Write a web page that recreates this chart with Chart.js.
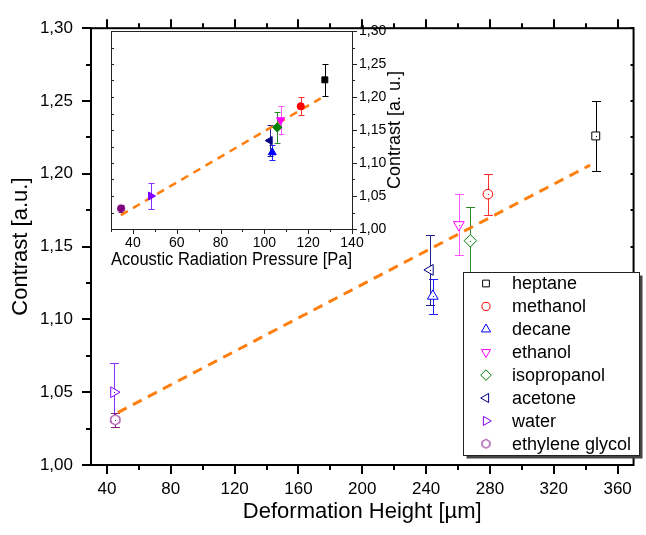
<!DOCTYPE html>
<html>
<head>
<meta charset="utf-8">
<script src="https://cdn.jsdelivr.net/npm/chart.js@4/dist/chart.umd.min.js"></script>
<style>
  html, body { margin: 0; padding: 0; background: #fff; }
  #wrap { position: relative; width: 646px; height: 535px; }
  #main { position: absolute; left: 0; top: 0; }
  #inset { position: absolute; left: 95px; top: 15px; }
</style>
</head>
<body>
<div id="wrap">
  <canvas id="main" width="646" height="535"></canvas>
  <canvas id="inset" width="315" height="265"></canvas>
</div>
<script>
// liquids, in legend order
const liquids = ['heptane', 'methanol', 'decane', 'ethanol', 'isopropanol', 'acetone', 'water', 'ethylene glycol'];
const heightUm = [346.3, 278.7, 244.2, 260.5, 267.7, 242.5, 44.3, 45.2];
const pressurePa = [127.6, 116.6, 103.6, 107.4, 105.9, 102.5, 48.2, 34.6];
const contrast = [1.226, 1.186, 1.116, 1.165, 1.154, 1.134, 1.050, 1.031];
const contrastErr = [0.024, 0.014, 0.012, 0.021, 0.023, 0.024, 0.020, 0.005];

// linear fits (end points)
const fitHeight = [46.8, 342.8];
const fitMain = [1.036, 1.206];
const fitPressure = [34.5, 125.7];
const fitInset = [1.021, 1.198];

// tick labels
const xTicks = [40, 80, 120, 160, 200, 240, 280, 320, 360];
const yTicks = [1.00, 1.05, 1.10, 1.15, 1.20, 1.25, 1.30];
const insetXTicks = [40, 60, 80, 100, 120, 140];

const colors = ['#000000', '#ff0000', '#0000ff', '#ff00ff', '#008000', '#000080', '#8000ff', '#800080'];
const errColors = ['#000000', '#ff3030', '#2020ff', '#ff55ff', '#2a8a2a', '#202090', '#8a30ff', '#802080'];
const styles = ['rect', 'circle', 'triangle', 'triangle', 'rectRot', 'triangle', 'triangle', 'hex'];
const rotations = [0, 0, 0, 180, 0, -90, 90, 0];
const radii = [5.6, 4.8, 6.2, 6.2, 6.2, 6.2, 6.2, 5.2];

Chart.defaults.font.family = '"Liberation Sans", Arial, sans-serif';
Chart.defaults.color = '#000';

const fmtTick = v => v.toFixed(2).replace('.', ',');

function hexImage(color, filled, r) {
  const c = document.createElement('canvas');
  const s = Math.ceil(r * 2 + 4);
  c.width = c.height = s;
  const g = c.getContext('2d');
  g.beginPath();
  for (let k = 0; k < 6; k++) {
    const a = -Math.PI / 2 + k * Math.PI / 3;
    const px = s / 2 + r * Math.cos(a), py = s / 2 + r * Math.sin(a);
    k ? g.lineTo(px, py) : g.moveTo(px, py);
  }
  g.closePath();
  g.fillStyle = filled ? color : '#fff';
  g.fill();
  g.strokeStyle = color;
  g.lineWidth = 1;
  g.stroke();
  return c;
}

function markerStyle(i, filled, scale) {
  const r = radii[i] * scale;
  return styles[i] === 'hex' ? hexImage(colors[i], filled, r) : styles[i];
}

function errorBars(xs, cap, width) {
  return {
    id: 'errorBars',
    beforeDatasetsDraw(chart) {
      const { ctx, scales: { x, y } } = chart;
      ctx.save();
      ctx.lineWidth = width;
      xs.forEach((xv, i) => {
        const px = Math.round(x.getPixelForValue(xv)) + 0.5;
        const top = Math.round(y.getPixelForValue(contrast[i] + contrastErr[i])) + 0.5;
        const bot = Math.round(y.getPixelForValue(contrast[i] - contrastErr[i])) + 0.5;
        ctx.strokeStyle = errColors[i];
        ctx.beginPath();
        ctx.moveTo(px, top); ctx.lineTo(px, bot);
        ctx.moveTo(px - cap, top); ctx.lineTo(px + cap, top);
        ctx.moveTo(px - cap, bot); ctx.lineTo(px + cap, bot);
        ctx.stroke();
      });
      ctx.restore();
    }
  };
}

function pointSets(xs, filled, scale) {
  return liquids.map((name, i) => ({
    label: name,
    data: [{ x: xs[i], y: contrast[i] }],
    pointStyle: markerStyle(i, filled, scale),
    rotation: rotations[i],
    pointRadius: radii[i] * scale,
    borderColor: colors[i],
    backgroundColor: filled ? colors[i] : '#fff',
    borderWidth: 1,
    order: 1
  }));
}

// ---------- main chart ----------
const mainFrame = {
  id: 'mainFrame',
  afterDatasetsDraw(chart) {
    const { ctx, scales: { x, y } } = chart;
    ctx.save();
    liquids.forEach((n, i) => {
      ctx.fillStyle = colors[i];
      ctx.fillRect(Math.round(x.getPixelForValue(heightUm[i])), Math.round(y.getPixelForValue(contrast[i])), 1, 1);
    });
    ctx.restore();
  },
  afterDraw(chart) {
    const { ctx, chartArea: a, scales: { x, y } } = chart;
    ctx.save();
    ctx.strokeStyle = '#000';
    ctx.lineWidth = 2;
    ctx.strokeRect(a.left, a.top, a.right - a.left, a.bottom - a.top);
    ctx.beginPath();
    xTicks.forEach((v, k) => {
      const marks = [[v, 9]];
      if (k < xTicks.length - 1) marks.push([(v + xTicks[k + 1]) / 2, 5]);
      marks.forEach(([mv, len]) => {
        const px = Math.round(x.getPixelForValue(mv));
        ctx.moveTo(px, a.bottom); ctx.lineTo(px, a.bottom + len);
        ctx.moveTo(px, a.top); ctx.lineTo(px, a.top - len);
      });
    });
    yTicks.forEach((v, k) => {
      const marks = [[v, 9]];
      if (k < yTicks.length - 1) marks.push([(v + yTicks[k + 1]) / 2, 5]);
      marks.forEach(([mv, len]) => {
        const py = Math.round(y.getPixelForValue(mv));
        ctx.moveTo(a.left, py); ctx.lineTo(a.left - len, py);
        ctx.moveTo(a.right, py); ctx.lineTo(a.right - 3, py);
      });
    });
    ctx.stroke();

    // legend box
    const bx = 463.5, by = 272.5, bw = 176, bh = 183;
    ctx.fillStyle = '#444';
    ctx.fillRect(bx + 3, by + 3, bw, bh);
    ctx.fillStyle = '#fff';
    ctx.fillRect(bx, by, bw, bh);
    ctx.lineWidth = 1;
    ctx.strokeStyle = '#222';
    ctx.strokeRect(bx, by, bw, bh);
    ctx.font = '18px "Liberation Sans", Arial, sans-serif';
    ctx.textBaseline = 'middle';
    ctx.textAlign = 'left';
    liquids.forEach((name, i) => {
      const ry = by + 11 + i * 22.9;
      ctx.fillStyle = '#fff';
      ctx.strokeStyle = colors[i];
      Chart.helpers.drawPoint(ctx, {
        pointStyle: markerStyle(i, false, 0.85),
        rotation: rotations[i],
        radius: radii[i] * 0.85,
        borderWidth: 1
      }, bx + 22.5, ry);
      ctx.fillStyle = '#000';
      ctx.fillText(name, bx + 48.5, ry + 1);
    });
    ctx.restore();
  }
};

new Chart(document.getElementById('main'), {
  type: 'scatter',
  data: {
    datasets: [
      ...pointSets(heightUm, false, 1),
      {
        type: 'line',
        label: 'fit',
        data: fitHeight.map((h, k) => ({ x: h, y: fitMain[k] })),
        borderColor: '#ff7f0e',
        borderWidth: 3,
        borderDash: [10, 7],
        pointRadius: 0,
        order: 5
      }
    ]
  },
  options: {
    responsive: false,
    animation: false,
    events: [],
    layout: { padding: { left: 0, right: 1, top: 20, bottom: 0 } },
    plugins: { legend: { display: false }, tooltip: { enabled: false } },
    scales: {
      x: {
        type: 'linear', min: 30, max: 370,
        grid: { display: false, drawTicks: false },
        border: { display: false },
        afterBuildTicks: s => { s.ticks = xTicks.map(v => ({ value: v })); },
        afterFit: s => { s.height = 70; },
        ticks: { font: { size: 17 }, padding: 14, maxRotation: 0 },
        title: { display: true, text: 'Deformation Height [µm]', font: { size: 22 }, padding: { bottom: 10 } }
      },
      y: {
        type: 'linear', min: 1.0, max: 1.3,
        grid: { display: false, drawTicks: false },
        border: { display: false },
        afterBuildTicks: s => { s.ticks = yTicks.map(v => ({ value: v })); },
        afterFit: s => { s.width = 91; },
        ticks: { font: { size: 17 }, padding: 18, callback: fmtTick },
        title: { display: true, text: 'Contrast [a.u.]', font: { size: 22 }, padding: { top: 8 } }
      }
    }
  },
  plugins: [errorBars(heightUm, 4.5, 1), mainFrame]
});

// ---------- inset chart ----------
const insetFrame = {
  id: 'insetFrame',
  beforeDraw(chart) {
    const { ctx, chartArea: a } = chart;
    ctx.save();
    ctx.fillStyle = '#fff';
    ctx.fillRect(a.left, a.top, a.right - a.left, a.bottom - a.top);
    ctx.restore();
  },
  afterDraw(chart) {
    const { ctx, chartArea: a, scales: { x, y } } = chart;
    ctx.save();
    ctx.strokeStyle = '#222';
    ctx.lineWidth = 1;
    ctx.strokeRect(a.left + 0.5, a.top + 0.5, a.right - a.left, a.bottom - a.top);
    ctx.beginPath();
    const xMarks = [[x.min, 3]];
    insetXTicks.forEach((v, k) => {
      xMarks.push([v, 5]);
      if (k < insetXTicks.length - 1) xMarks.push([(v + insetXTicks[k + 1]) / 2, 3]);
    });
    xMarks.push([(x.min + insetXTicks[0]) / 2 + 5, 3]);
    xMarks.forEach(([mv, len]) => {
      const px = Math.round(x.getPixelForValue(mv)) + 0.5;
      ctx.moveTo(px, a.bottom); ctx.lineTo(px, a.bottom + len);
    });
    yTicks.forEach((v, k) => {
      const marks = [[v, 5]];
      if (k < yTicks.length - 1) marks.push([(v + yTicks[k + 1]) / 2, 3]);
      marks.forEach(([mv, len]) => {
        const py = Math.round(y.getPixelForValue(mv)) + 0.5;
        ctx.moveTo(a.right, py); ctx.lineTo(a.right + len, py);
        ctx.moveTo(a.left, py); ctx.lineTo(a.left + 3, py);
      });
    });
    ctx.stroke();

    ctx.translate(300, (a.top + a.bottom) / 2);
    ctx.rotate(-Math.PI / 2);
    ctx.fillStyle = '#000';
    ctx.font = '18px "Liberation Sans", Arial, sans-serif';
    ctx.textAlign = 'center';
    ctx.textBaseline = 'middle';
    ctx.fillText('Contrast [a. u.]', 0, 0);
    ctx.restore();
  }
};

new Chart(document.getElementById('inset'), {
  type: 'scatter',
  data: {
    datasets: [
      ...pointSets(pressurePa, true, 0.75),
      {
        type: 'line',
        label: 'fit',
        data: fitPressure.map((p, k) => ({ x: p, y: fitInset[k] })),
        borderColor: '#ff7f0e',
        borderWidth: 2.5,
        borderDash: [8, 6],
        pointRadius: 0,
        order: 5
      }
    ]
  },
  options: {
    responsive: false,
    animation: false,
    events: [],
    layout: { padding: { left: 16, right: 0, top: 16, bottom: 0 } },
    plugins: { legend: { display: false }, tooltip: { enabled: false } },
    scales: {
      x: {
        type: 'linear', min: 30, max: 140,
        grid: { display: false, drawTicks: false },
        border: { display: false },
        afterBuildTicks: s => { s.ticks = insetXTicks.map(v => ({ value: v })); },
        afterFit: s => { s.height = 51; },
        ticks: { font: { size: 14 }, padding: 6, maxRotation: 0 },
        title: { display: true, text: 'Acoustic Radiation Pressure [Pa]', font: { size: 18 }, padding: { bottom: 9 } }
      },
      y: {
        type: 'linear', position: 'right', min: 1.0, max: 1.3,
        grid: { display: false, drawTicks: false },
        border: { display: false },
        afterBuildTicks: s => { s.ticks = yTicks.map(v => ({ value: v })); },
        afterFit: s => { s.width = 58; },
        ticks: { font: { size: 14 }, padding: 7, callback: fmtTick }
      }
    }
  },
  plugins: [errorBars(pressurePa, 3, 1), insetFrame]
});
</script>
</body>
</html>
